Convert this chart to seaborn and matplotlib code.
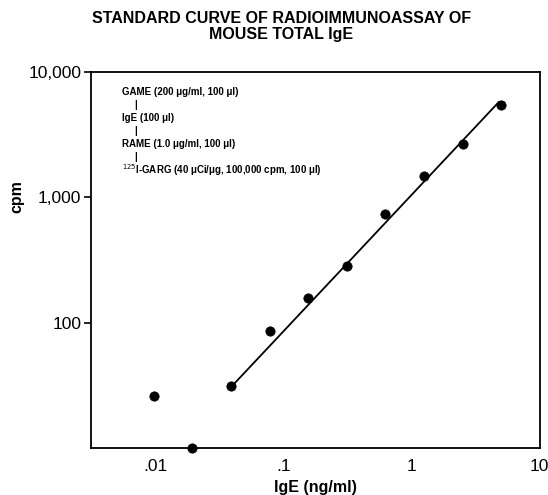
import matplotlib
matplotlib.use("Agg")
import matplotlib.pyplot as plt
import pandas as pd
import seaborn as sns

# IgE standard curve values
ige_ng_ml = [0.0098, 0.0195, 0.039, 0.078, 0.156, 0.3125, 0.625, 1.25, 2.5, 5.0]
cpm = [26, 10, 31, 85, 156, 281, 730, 1470, 2650, 5400]

# ends of the drawn standard line
fit_x = [0.0395, 4.8]
fit_y = [31, 5750]

x_ticks = [0.01, 0.1, 1, 10]
x_tick_labels = [".01", ".1", "1", "10"]
y_ticks = [100, 1000, 10000]
y_tick_labels = ["100", "1,000", "10,000"]

protocol = [
    "GAME (200 μg/ml, 100 μl)",
    "|",
    "IgE (100 μl)",
    "|",
    "RAME (1.0 μg/ml, 100 μl)",
    "|",
    "$^{125}$I-GARG (40 μCi/μg, 100,000 cpm, 100 μl)",
]

sns.set_style("white")
plt.rcParams['font.family'] = ['Liberation Sans', 'DejaVu Sans']
plt.rcParams['text.color'] = 'black'
plt.rcParams['axes.labelcolor'] = 'black'
plt.rcParams['xtick.color'] = 'black'
plt.rcParams['ytick.color'] = 'black'

df = pd.DataFrame({"x": ige_ng_ml, "y": cpm})
df_fit = pd.DataFrame({"x": fit_x, "y": fit_y})

fig = plt.figure(figsize=(5.48, 4.95), dpi=100)
ax = fig.add_axes([0.166, 0.095, 0.819, 0.76])

sns.lineplot(data=df_fit, x="x", y="y", color="black", linewidth=1.3, ax=ax)
sns.scatterplot(data=df, x="x", y="y", color="black", s=45, edgecolor="black",
                zorder=5, clip_on=False, ax=ax)

ax.set_xscale("log")
ax.set_yscale("log")
ax.set_xlim(0.00315, 10)
ax.set_ylim(10, 10000)
ax.minorticks_off()
ax.set_xticks(x_ticks)
ax.set_xticklabels(x_tick_labels)
ax.set_yticks(y_ticks)
ax.set_yticklabels(y_tick_labels)
ax.tick_params(axis="x", direction="in", length=5, width=1.2, labelsize=12.5, pad=8)
ax.tick_params(axis="y", direction="out", length=5, width=1.2, labelsize=12.5, pad=2,
               left=True)

for s in ax.spines.values():
    s.set_visible(True)
    s.set_color("black")
    s.set_linewidth(1.3)

ax.set_xlabel("IgE (ng/ml)", fontsize=11.5, fontweight="bold", labelpad=4)
ax.set_ylabel("cpm", fontsize=11.5, fontweight="bold")
# the y label sits level with the 1,000 tick in the original
ax.yaxis.set_label_coords(-0.148, 0.667)

fig.text(0.513, 0.978, "STANDARD CURVE OF RADIOIMMUNOASSAY OF\nMOUSE TOTAL IgE",
         fontsize=11.5, fontweight="bold", linespacing=1.1, ha="center", va="top")

for i, line in enumerate(protocol):
    xpos = 0.097 if line == "|" else 0.069
    ax.text(xpos, 0.945 - i * 0.0345, line, transform=ax.transAxes,
            fontsize=7, fontweight="bold", va="center", ha="left")

fig.savefig("out.png", dpi=100)
